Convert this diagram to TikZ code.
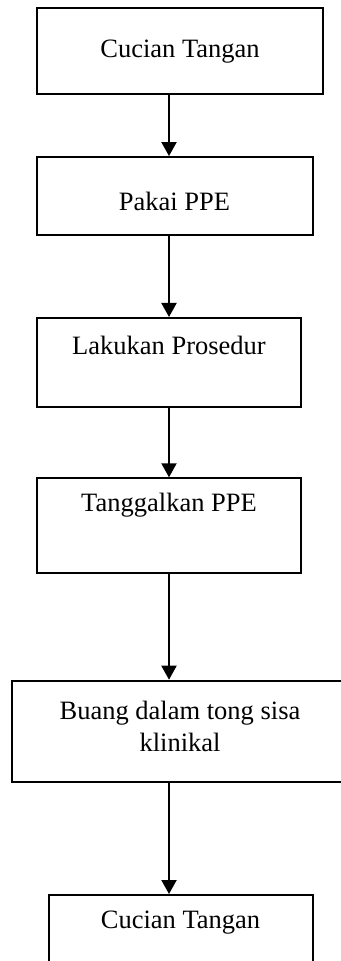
\documentclass[tikz,border=0pt]{standalone}
\usepackage{fontspec}
\setmainfont{Liberation Serif}
\usetikzlibrary{arrows.meta}
\begin{document}
\begin{tikzpicture}[x=0.5pt,y=-0.5pt,
  box/.style={draw=black,line width=1pt,fill=none},
  txt/.style={inner sep=0pt,align=center,font=\fontsize{13.25pt}{16pt}\selectfont},
  flow/.style={line width=1pt,-{Triangle[width=7.5pt,length=7pt]}}]
\useasboundingbox (0,0) rectangle (341,961);
\clip (0,0) rectangle (341,961);
% boxes
\node[box,minimum width=286.6*0.5pt,minimum height=86*0.5pt,inner sep=0pt] (b1) at (180,51.3) {};
\node[box,minimum width=276*0.5pt,minimum height=78.3*0.5pt,inner sep=0pt] (b2) at (174.7,196.2) {};
\node[box,minimum width=264.3*0.5pt,minimum height=89*0.5pt,inner sep=0pt] (b3) at (168.8,362.5) {};
\node[box,minimum width=264.3*0.5pt,minimum height=95*0.5pt,inner sep=0pt] (b4) at (168.8,525.8) {};
\node[box,minimum width=336*0.5pt,minimum height=101*0.5pt,inner sep=0pt] (b5) at (180.3,731.2) {};
\node[box,minimum width=263.7*0.5pt,minimum height=120*0.5pt,inner sep=0pt] (b6) at (180.8,955) {};
% texts
\node[txt] (t1) at (180,52) {Cucian Tangan};
\node[txt] (t2) at (174.5,201.5) {Pakai PPE};
\node[txt] (t3) at (169,345) {Lakukan Prosedur};
\node[txt] (t4) at (169,505) {Tanggalkan PPE};
\node[txt] (t5) at (180,726) {Buang dalam tong sisa\\klinikal};
\node[txt] (t6) at (180.5,923) {Cucian Tangan};
% connectors
\draw[flow] (b1.south -| 169,0) -- (b2.north -| 169,0);
\draw[flow] (b2.south -| 169,0) -- (b3.north -| 169,0);
\draw[flow] (b3.south -| 169,0) -- (b4.north -| 169,0);
\draw[flow] (b4.south -| 169,0) -- (b5.north -| 169,0);
\draw[flow] (b5.south -| 169,0) -- (b6.north -| 169,0);
\end{tikzpicture}
\end{document}
